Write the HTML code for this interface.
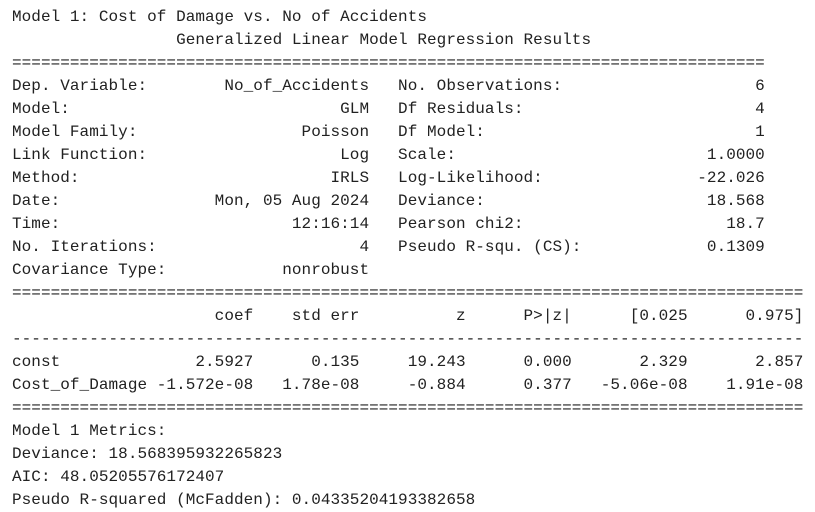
<!DOCTYPE html>
<html><head><meta charset="utf-8"><style>
html,body{margin:0;padding:0;background:#fff;width:815px;height:512px;overflow:hidden}
pre{margin:0;position:absolute;left:12px;top:6px;font-family:"Liberation Mono",monospace;font-size:16px;line-height:23px;color:#212121;letter-spacing:0.05px}
</style></head><body>
<pre>Model 1: Cost of Damage vs. No of Accidents
                 Generalized Linear Model Regression Results
==============================================================================
Dep. Variable:        No_of_Accidents   No. Observations:                    6
Model:                            GLM   Df Residuals:                        4
Model Family:                 Poisson   Df Model:                            1
Link Function:                    Log   Scale:                          1.0000
Method:                          IRLS   Log-Likelihood:                -22.026
Date:                Mon, 05 Aug 2024   Deviance:                       18.568
Time:                        12:16:14   Pearson chi2:                     18.7
No. Iterations:                     4   Pseudo R-squ. (CS):             0.1309
Covariance Type:            nonrobust
==================================================================================
                     coef    std err          z      P>|z|      [0.025      0.975]
----------------------------------------------------------------------------------
const              2.5927      0.135     19.243      0.000       2.329       2.857
Cost_of_Damage -1.572e-08   1.78e-08     -0.884      0.377   -5.06e-08    1.91e-08
==================================================================================
Model 1 Metrics:
Deviance: 18.568395932265823
AIC: 48.05205576172407
Pseudo R-squared (McFadden): 0.04335204193382658</pre>
</body></html>
